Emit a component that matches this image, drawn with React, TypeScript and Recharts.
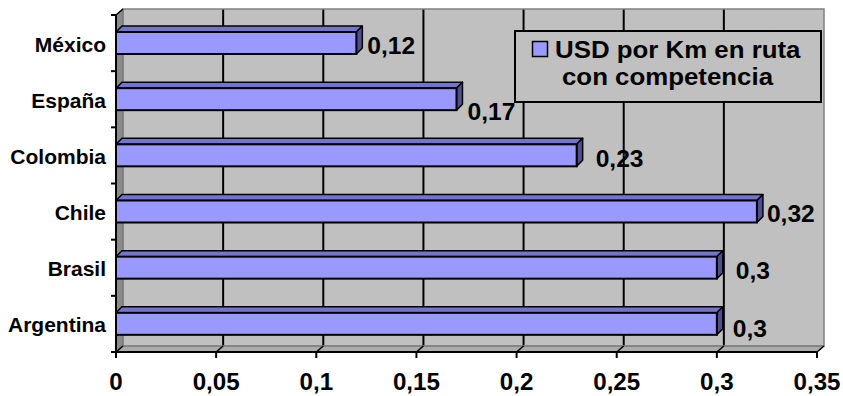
import React from 'react';
import {
  BarChart,
  Bar,
  XAxis,
  YAxis,
  CartesianGrid,
  ReferenceArea,
  Legend,
  LabelList,
} from 'recharts';

// Categories (top to bottom) and their values
const countries = ['México', 'España', 'Colombia', 'Chile', 'Brasil', 'Argentina'];
const usdPerKm = [0.12, 0.17, 0.23, 0.32, 0.3, 0.3];

// Value axis ticks and the interior wall gridlines
const valueDomain: [number, number] = [0, 0.35];
const valueTicks = [0, 0.05, 0.1, 0.15, 0.2, 0.25, 0.3, 0.35];
const gridValues = [0.05, 0.1, 0.15, 0.2, 0.25, 0.3];

// Series name, wrapped over two lines in the legend
const seriesNameLines = ['USD por Km en ruta', 'con competencia'];
const seriesName = seriesNameLines.join(' ');

const data = countries.map((country, i) => ({ country, value: usdPerKm[i] }));

// Layout
const W = 843;
const H = 396;
const MARGIN = { top: 15, right: 26, bottom: 0, left: 0 };
const Y_AXIS_W = 116;
const X_AXIS_H = 44;
const PLOT_LEFT = MARGIN.left + Y_AXIS_W;
const PLOT_TOP = MARGIN.top;
const PLOT_W = W - MARGIN.right - PLOT_LEFT;
const PLOT_H = H - MARGIN.top - MARGIN.bottom - X_AXIS_H;

// 3D depth of the walls and of the bars
const WALL_DX = 7;
const WALL_DY = 6;
const BAR_DX = 6;
const BAR_DY = 6;

const FONT = 'Arial, "Liberation Sans", Helvetica, sans-serif';
const BAR_FRONT = '#9999FF';
const BAR_TOP = '#7474CC';
const BAR_SIDE = '#4E4E90';
const WALL = '#C0C0C0';

// Small per-label adjustments of the value labels: [dx, dy]
const labelNudge: [number, number][] = [
  [1, 0],
  [1, 10],
  [9, 1],
  [0, -1],
  [9, 0.5],
  [6, 2],
];

const fmt = (v: number) => String(v).replace('.', ',');

// Position of a value on the horizontal axis, taken from the axis scale when available
function axisPos(xAxis: any, offset: any, v: number) {
  const s = xAxis && xAxis.scale;
  if (typeof s === 'function') return s(v);
  if (s && typeof s.map === 'function') return s.map(v);
  const d = (xAxis && Array.isArray(xAxis.domain) && xAxis.domain.length === 2 ? xAxis.domain : valueDomain) as number[];
  return offset.left + ((v - d[0]) / (d[1] - d[0])) * offset.width;
}

function StretchText({
  x,
  y,
  size,
  scale,
  anchor = 'start',
  children,
}: {
  x: number;
  y: number;
  size: number;
  scale: number;
  anchor?: 'start' | 'middle' | 'end';
  children: React.ReactNode;
}) {
  return (
    <g transform={`translate(${x},${y}) scale(${scale},1)`}>
      <text x={0} y={0} fontFamily={FONT} fontWeight="bold" fontSize={size} textAnchor={anchor} fill="#000">
        {children}
      </text>
    </g>
  );
}

// Left wall, floor and back wall outline of the 3D frame
function Frame(props: any) {
  const { x, y, width: w, height: h } = props;
  if (x == null || y == null) return null;
  const n = countries.length;
  const ticks = [];
  for (let i = 0; i <= n; i++) {
    const ty = y + (i * h) / n;
    ticks.push(<line key={i} x1={x - 5} y1={ty} x2={x} y2={ty} stroke="#000" strokeWidth={2} />);
  }
  return (
    <g>
      <polygon
        points={`${x},${y} ${x + WALL_DX},${y - WALL_DY} ${x + WALL_DX},${y + h - WALL_DY} ${x},${y + h}`}
        fill="#8A8A8A"
        stroke="#606060"
        strokeWidth={1}
      />
      <polygon
        points={`${x},${y + h} ${x + WALL_DX},${y + h - WALL_DY} ${x + w + WALL_DX},${y + h - WALL_DY} ${x + w},${y + h}`}
        fill="#ACACAC"
        stroke="#707070"
        strokeWidth={1}
      />
      <rect x={x + WALL_DX} y={y - WALL_DY} width={w} height={h} fill="none" stroke="#808080" strokeWidth={1.5} />
      <line x1={x} y1={y} x2={x + WALL_DX} y2={y - WALL_DY} stroke="#000" strokeWidth={1.5} />
      {ticks}
    </g>
  );
}

// Bar drawn as a box: front face, top face and end face
function Bar3D(props: any) {
  const { x, y, width: w, height: h } = props;
  if (x == null || y == null || !(w > 0)) return null;
  return (
    <g>
      <polygon
        points={`${x},${y} ${x + BAR_DX},${y - BAR_DY} ${x + w + BAR_DX},${y - BAR_DY} ${x + w},${y}`}
        fill={BAR_TOP}
        stroke="#000"
        strokeWidth={1.5}
        strokeLinejoin="round"
      />
      <polygon
        points={`${x + w},${y} ${x + w + BAR_DX},${y - BAR_DY} ${x + w + BAR_DX},${y + h - BAR_DY} ${x + w},${y + h}`}
        fill={BAR_SIDE}
        stroke="#000"
        strokeWidth={1.5}
        strokeLinejoin="round"
      />
      <rect x={x} y={y} width={w} height={h} fill={BAR_FRONT} stroke="#000" strokeWidth={2} />
    </g>
  );
}

function ValueLabel(props: any) {
  const { x, y, width, height, value, index } = props;
  const [dx, dy] = labelNudge[index] || [0, 0];
  return (
    <StretchText x={x + width + 10 + dx} y={y + height / 2 + 11 + dy} size={23} scale={1.07}>
      {fmt(value)}
    </StretchText>
  );
}

function CategoryTick(props: any) {
  const { x, y, payload } = props;
  return (
    <StretchText x={x} y={y + 8.5} size={20} scale={1.05} anchor="end">
      {payload.value}
    </StretchText>
  );
}

function ValueTick(props: any) {
  const { x, y, payload } = props;
  const axisY = y - 8;
  return (
    <g>
      <line x1={x} y1={axisY} x2={x + WALL_DX} y2={axisY - WALL_DY} stroke="#000" strokeWidth={1.5} />
      <StretchText x={x} y={y + 30} size={23} scale={1.05} anchor="middle">
        {fmt(payload.value)}
      </StretchText>
    </g>
  );
}

function LegendBox(props: any) {
  const entry = (props.payload && props.payload[0]) || { color: BAR_FRONT };
  return (
    <svg width={308} height={73} style={{ display: 'block' }}>
      <rect x={1} y={1} width={306} height={71} fill={WALL} stroke="#000" strokeWidth={2} />
      <rect x={18.5} y={11.5} width={15} height={15} fill={entry.color || BAR_FRONT} stroke="#000" strokeWidth={1.5} />
      <StretchText x={41} y={28} size={23.5} scale={1.1}>
        {seriesNameLines[0]}
      </StretchText>
      <StretchText x={48} y={55} size={23.5} scale={1.1}>
        {seriesNameLines[1]}
      </StretchText>
    </svg>
  );
}

export default function App() {
  return (
    <div style={{ position: 'absolute', left: 0, top: 0, width: W, height: H, background: '#fff' }}>
      <BarChart width={W} height={H} data={data} layout="vertical" margin={MARGIN} barSize={22}>
        <CartesianGrid
          x={PLOT_LEFT + WALL_DX}
          y={PLOT_TOP - WALL_DY}
          width={PLOT_W}
          height={PLOT_H}
          fill={WALL}
          fillOpacity={1}
          horizontal={false}
          stroke="#000"
          strokeWidth={2}
          verticalCoordinatesGenerator={({ xAxis, offset }: any) =>
            gridValues.map((v) => axisPos(xAxis, offset, v) + WALL_DX)
          }
        />
        <ReferenceArea x1={0} x2={0.35} shape={<Frame />} ifOverflow="visible" fill="none" />
        <XAxis
          type="number"
          domain={valueDomain}
          ticks={valueTicks}
          interval={0}
          height={X_AXIS_H}
          axisLine={{ stroke: '#000', strokeWidth: 2 }}
          tickLine={{ stroke: '#000', strokeWidth: 2 }}
          tickSize={6}
          tickMargin={2}
          tick={<ValueTick />}
        />
        <YAxis
          type="category"
          dataKey="country"
          width={Y_AXIS_W}
          axisLine={{ stroke: '#000', strokeWidth: 2 }}
          tickLine={false}
          tickSize={0}
          tickMargin={10}
          interval={0}
          tick={<CategoryTick />}
        />
        <Legend
          layout="horizontal"
          verticalAlign="middle"
          align="center"
          content={<LegendBox />}
          wrapperStyle={{ left: 514, top: 30, width: 308, height: 73 }}
        />
        <Bar dataKey="value" name={seriesName} fill={BAR_FRONT} shape={<Bar3D />} isAnimationActive={false}>
          <LabelList dataKey="value" content={<ValueLabel />} />
        </Bar>
      </BarChart>
    </div>
  );
}
